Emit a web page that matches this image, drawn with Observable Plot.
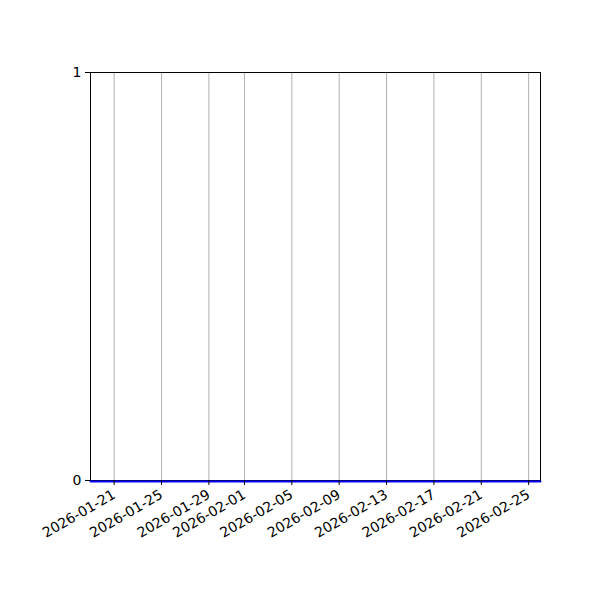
<!DOCTYPE html>
<html>
<head>
<meta charset="utf-8">
<script src="https://cdn.jsdelivr.net/npm/d3@7"></script>
<script src="https://cdn.jsdelivr.net/npm/@observablehq/plot@0.6"></script>
<style>
  html, body { margin: 0; padding: 0; background: #fff; }
  #chart svg { display: block; }
</style>
</head>
<body>
<div id="chart"></div>
<script>
// Data
const dates = ["2026-01-19", "2026-02-26"];
const values = [0, 0];
const xTickLabels = ["2026-01-21", "2026-01-25", "2026-01-29", "2026-02-01", "2026-02-05",
                     "2026-02-09", "2026-02-13", "2026-02-17", "2026-02-21", "2026-02-25"];
const yTickLabels = [0, 1];

const data = dates.map((d, i) => ({date: new Date(d + "T00:00:00Z"), value: values[i]}));
const xTicks = xTickLabels.map(d => new Date(d + "T00:00:00Z"));

const chart = Plot.plot({
  width: 600,
  height: 600,
  marginLeft: 90,
  marginRight: 60,
  marginTop: 72,
  marginBottom: 120,
  style: {fontFamily: "DejaVu Sans, sans-serif", fontSize: "14px", color: "#000", background: "#fff"},
  x: {
    type: "utc",
    domain: [new Date("2026-01-19T00:00:00Z"), new Date("2026-02-26T00:00:00Z")],
    label: null
  },
  y: {
    domain: [0, 1],
    label: null
  },
  marks: [
    Plot.gridX(xTicks, {stroke: "#b0b0b0", strokeOpacity: 1, strokeWidth: 1}),
    Plot.frame({stroke: "#000", strokeWidth: 1}),
    Plot.lineY(data, {x: "date", y: "value", stroke: "#0000ff", strokeWidth: 2, dy: 1}),
    Plot.axisX(xTicks, {
      tickFormat: null,
      text: null,
      tickSize: 5,
      stroke: "#000"
    }),
    Plot.axisX(xTicks, {
      tickFormat: d3.utcFormat("%Y-%m-%d"),
      tickSize: 0,
      tickPadding: 13,
      tickRotate: -30,
      fontSize: 14
    }),
    Plot.axisY(yTickLabels, {
      tickSize: 5,
      tickPadding: 4,
      fontSize: 14,
      tickFormat: d => String(d)
    })
  ]
});
document.getElementById("chart").appendChild(chart);
</script>
</body>
</html>
